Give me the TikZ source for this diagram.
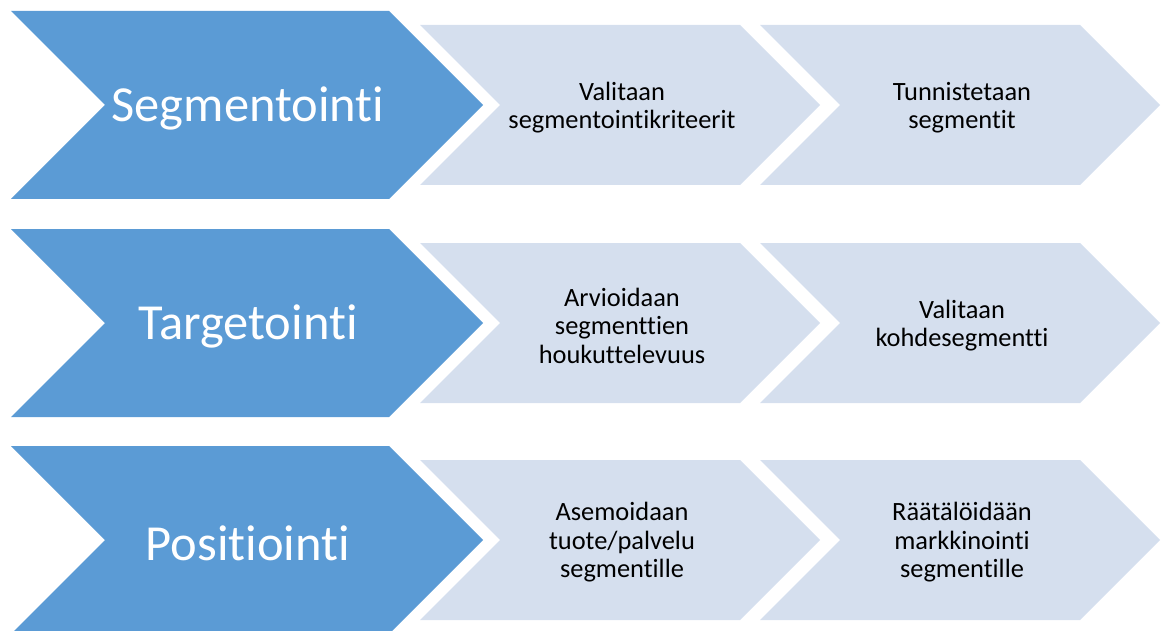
\documentclass[tikz,border=0pt]{standalone}
\usepackage{fontspec}
\setmainfont{Carlito}[Ligatures={NoCommon,NoRequired,NoContextual}]
\definecolor{bigblue}{HTML}{5B9BD5}
\definecolor{lightblue}{HTML}{D5DFEE}
\tikzset{
  bigtxt/.style={text=white, font=\fontsize{50.5}{56}\selectfont, inner sep=0pt, align=center},
  smalltxt/.style={text=black, font=\fontsize{26.4}{28.5}\selectfont, inner sep=0pt, align=center},
}
\newcommand\bigchevron[1]{%
  \fill[bigblue] (11,#1-94) -- (389,#1-94) -- (483,#1) -- (389,#1+94) -- (11,#1+94) -- (105,#1) -- cycle;}
\newcommand\smallchevron[2]{%
  \fill[lightblue] (#1,#2-80) -- (#1+320,#2-80) -- (#1+400,#2) -- (#1+320,#2+80) -- (#1,#2+80) -- (#1+80,#2) -- cycle;}
\begin{document}
\begin{tikzpicture}[x=1pt,y=-1pt]
\useasboundingbox (0,0) rectangle (1164,631);
\clip (0,0) rectangle (1164,631);
% row 1
\bigchevron{105}
\smallchevron{420}{105}
\smallchevron{760}{105}
\node[bigtxt] (s1) at (248,108) {Segmentointi};
\node[smalltxt] (s2) at (622,107.5) {Valitaan\\segmentointikriteerit};
\node[smalltxt] (s3) at (962,107.5) {Tunnistetaan\\segmentit};
% row 2
\bigchevron{323}
\smallchevron{420}{323}
\smallchevron{760}{323}
\node[bigtxt] (t1) at (248,326) {Targetointi};
\node[smalltxt] (t2) at (622,325.5) {Arvioidaan\\segmenttien\\houkuttelevuus};
\node[smalltxt] (t3) at (962,325.5) {Valitaan\\kohdesegmentti};
% row 3
\bigchevron{540}
\smallchevron{420}{540}
\smallchevron{760}{540}
\node[bigtxt] (p1) at (248,543) {Positiointi};
\node[smalltxt] (p2) at (622,542.5) {Asemoidaan\\tuote/palvelu\\segmentille};
\node[smalltxt] (p3) at (962,542.5) {Räätälöidään\\markkinointi\\segmentille};
\end{tikzpicture}
\end{document}
